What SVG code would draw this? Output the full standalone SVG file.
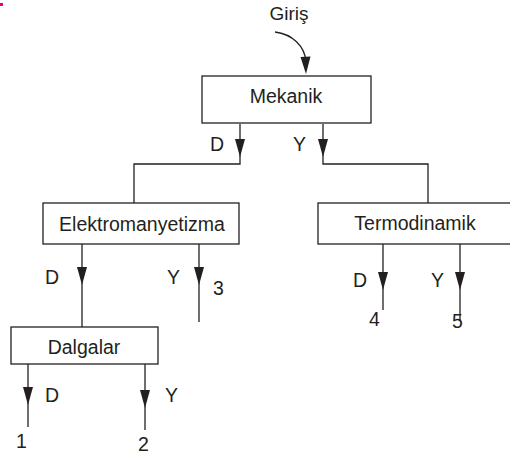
<svg xmlns="http://www.w3.org/2000/svg" width="510" height="457" viewBox="0 0 510 457">
  <style>
    .box { fill: #ffffff; stroke: #231f20; stroke-width: 1.3; }
    .wire { fill: none; stroke: #231f20; stroke-width: 1.3; }
    .head { fill: #231f20; }
    text { font-family: "Liberation Sans", Arial, sans-serif; font-size: 19.5px; fill: #231f20; }
    .mid { text-anchor: middle; }
  </style>
  <defs>
    <!-- downward arrowhead, tip at the origin -->
    <path id="ah" class="head" d="M0,0 L-5,-18 L5,-18 Z"/>
  </defs>

  <rect x="0" y="3" width="3" height="3" fill="#e6007e"/>

  <g id="connectors">
    <!-- entry curve -->
    <path class="wire" d="M275,32 C292,34 305,46 306,62"/>
    <path class="head" d="M306,74 L300.5,57 L310.5,56.5 Z"/>

    <path class="wire" d="M240,124 V164 H134 V203"/>
    <path class="wire" d="M323,124 V164 H428 V203"/>
    <use href="#ah" x="240" y="157"/>
    <use href="#ah" x="323" y="157"/>

    <path class="wire" d="M82,244 V327"/>
    <path class="wire" d="M199,244 V322"/>
    <use href="#ah" x="82" y="285"/>
    <use href="#ah" x="199" y="285"/>

    <path class="wire" d="M383,244 V310"/>
    <path class="wire" d="M460,244 V320"/>
    <use href="#ah" x="383" y="290"/>
    <use href="#ah" x="460" y="290"/>

    <path class="wire" d="M28,364 V427"/>
    <path class="wire" d="M145,364 V430"/>
    <use href="#ah" x="28" y="405"/>
    <use href="#ah" x="145" y="408"/>
  </g>

  <text class="mid" x="289" y="20" style="font-size:19px">Giriş</text>

  <g id="mekanik">
    <rect class="box" x="202" y="76" width="169" height="47"/>
    <text class="mid" x="286" y="103">Mekanik</text>
  </g>

  <g id="elektromanyetizma">
    <rect class="box" x="43" y="203" width="196" height="41"/>
    <text class="mid" x="142" y="231">Elektromanyetizma</text>
  </g>

  <g id="termodinamik">
    <rect class="box" x="318" y="203" width="200" height="41"/>
    <text class="mid" x="415" y="230">Termodinamik</text>
  </g>

  <g id="dalgalar">
    <rect class="box" x="11" y="327" width="147" height="37"/>
    <text class="mid" x="84" y="354">Dalgalar</text>
  </g>

  <g id="labels">
    <text x="210" y="151">D</text>
    <text x="293" y="151">Y</text>
    <text x="45" y="284">D</text>
    <text x="167" y="284">Y</text>
    <text x="213" y="295">3</text>
    <text x="353" y="287">D</text>
    <text x="431" y="287">Y</text>
    <text x="369" y="326">4</text>
    <text x="452" y="328">5</text>
    <text x="45" y="402">D</text>
    <text x="165" y="402">Y</text>
    <text x="16" y="448">1</text>
    <text x="138" y="451">2</text>
  </g>
</svg>
